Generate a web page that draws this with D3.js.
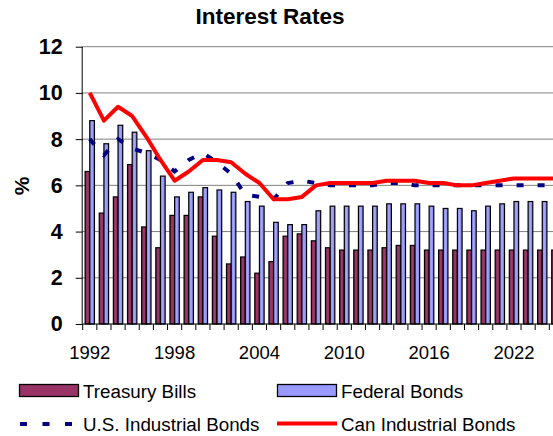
<!DOCTYPE html>
<html>
<head>
<meta charset="utf-8">
<script src="https://cdn.jsdelivr.net/npm/d3@7"></script>
<style>
  html, body { margin: 0; padding: 0; background: #fff; }
  svg { display: block; font-family: "Liberation Sans", Arial, sans-serif; }
</style>
</head>
<body>
<script>
// Annual interest rates (%), 1992–2025
const years = [1992,1993,1994,1995,1996,1997,1998,1999,2000,2001,2002,2003,2004,2005,2006,2007,2008,
               2009,2010,2011,2012,2013,2014,2015,2016,2017,2018,2019,2020,2021,2022,2023,2024,2025];
const treasuryBills = [6.6,4.8,5.5,6.9,4.2,3.3,4.7,4.7,5.5,3.8,2.6,2.9,2.2,2.7,3.8,3.9,3.6,
                       3.3,3.2,3.2,3.2,3.3,3.4,3.4,3.2,3.2,3.2,3.2,3.2,3.2,3.2,3.2,3.2,3.2];
const federalBonds = [8.8,7.8,8.6,8.3,7.5,6.4,5.5,5.7,5.9,5.8,5.7,5.3,5.1,4.4,4.3,4.3,4.9,
                      5.1,5.1,5.1,5.1,5.2,5.2,5.2,5.1,5.0,5.0,4.9,5.1,5.2,5.3,5.3,5.3,5.3];
const usIndustrialBonds = [8.0,7.3,8.0,7.6,7.4,7.1,6.6,7.1,7.4,7.0,6.5,5.6,5.5,5.4,6.1,6.2,6.1,
                           6.0,6.0,6.0,6.0,6.1,6.1,6.0,6.0,6.0,6.0,6.0,6.0,6.0,6.0,6.0,6.0,6.0];
const canIndustrialBonds = [10.0,8.8,9.4,9.0,8.1,7.1,6.2,6.6,7.1,7.1,7.0,6.5,6.1,5.4,5.4,5.5,6.0,
                            6.1,6.1,6.1,6.1,6.2,6.2,6.2,6.1,6.1,6.0,6.0,6.1,6.2,6.3,6.3,6.3,6.3];
const yTicks = [0,2,4,6,8,10,12];
const xLabelYears = [1992,1998,2004,2010,2016,2022];

const W = 553, H = 436;
const plotLeft = 82.7, plotTop = 46.7, plotBottom = 324;
const step = 14.14;
const plotRight = plotLeft + step * years.length;

const svg = d3.select("body").append("svg").attr("width", W).attr("height", H);

const defs = svg.append("defs");
const gTB = defs.append("linearGradient").attr("id", "gradTB").attr("x1", 0).attr("x2", 1).attr("y1", 0).attr("y2", 0);
gTB.append("stop").attr("offset", "0%").attr("stop-color", "#6e2248");
gTB.append("stop").attr("offset", "45%").attr("stop-color", "#a23a6c");
gTB.append("stop").attr("offset", "100%").attr("stop-color", "#7a2852");
const gFB = defs.append("linearGradient").attr("id", "gradFB").attr("x1", 0).attr("x2", 1).attr("y1", 0).attr("y2", 0);
gFB.append("stop").attr("offset", "0%").attr("stop-color", "#8080e6");
gFB.append("stop").attr("offset", "45%").attr("stop-color", "#a8a8ff");
gFB.append("stop").attr("offset", "100%").attr("stop-color", "#7c7ce0");

const x = d3.scaleBand().domain(years).range([plotLeft, plotRight]).paddingInner(0).paddingOuter(0);
const y = d3.scaleLinear().domain([0, 12]).range([plotBottom, plotTop]);

const groupPad = 0.17;
const barW = x.bandwidth() * (1 - 2 * groupPad) / 2;
const xc = d => x(d) + x.bandwidth() / 2;

// Title
svg.append("text").attr("x", 270).attr("y", 24).attr("text-anchor", "middle")
  .attr("font-size", 22.5).attr("font-weight", "bold").text("Interest Rates");

// Horizontal gridlines
svg.append("g").selectAll("line").data(yTicks.filter(t => t > 0)).join("line")
  .attr("x1", plotLeft).attr("x2", plotRight)
  .attr("y1", d => y(d)).attr("y2", d => y(d))
  .attr("stroke", "#808080").attr("stroke-width", 1);

// Bars
const bars = svg.append("g");
bars.selectAll("rect.tb").data(years).join("rect").attr("class", "tb")
  .attr("x", (d) => x(d) + x.bandwidth() * groupPad)
  .attr("width", barW)
  .attr("y", (d, i) => y(treasuryBills[i]))
  .attr("height", (d, i) => y(0) - y(treasuryBills[i]))
  .attr("fill", "url(#gradTB)").attr("stroke", "#000").attr("stroke-width", 1.2);
bars.selectAll("rect.fb").data(years).join("rect").attr("class", "fb")
  .attr("x", (d) => x(d) + x.bandwidth() * groupPad + barW)
  .attr("width", barW)
  .attr("y", (d, i) => y(federalBonds[i]))
  .attr("height", (d, i) => y(0) - y(federalBonds[i]))
  .attr("fill", "url(#gradFB)").attr("stroke", "#000").attr("stroke-width", 1.2);

// Lines
const line = d3.line().x((d, i) => xc(years[i])).y(d => y(d));
svg.append("path").datum(usIndustrialBonds).attr("d", line)
  .attr("fill", "none").attr("stroke", "#000080").attr("stroke-width", 4)
  .attr("stroke-dasharray", "7,14");
svg.append("path").datum(canIndustrialBonds).attr("d", line)
  .attr("fill", "none").attr("stroke", "#ff0000").attr("stroke-width", 4)
  .attr("stroke-linejoin", "round");

// Y axis
const yAxis = d3.axisLeft(y).tickValues(yTicks).tickSize(7).tickPadding(13).tickFormat(d3.format("d"));
const gy = svg.append("g").attr("transform", `translate(${plotLeft},0)`).call(yAxis);
gy.select(".domain").attr("stroke", "#000").attr("d", `M-0.5,${plotTop}V${plotBottom}`);
gy.selectAll(".tick line").attr("stroke", "#000");
gy.selectAll(".tick text").attr("font-size", 21.5).attr("font-weight", "bold")
  .attr("font-family", "'Liberation Sans', Arial, sans-serif").attr("fill", "#000");

// X axis: ticks at category boundaries, labels every six years
const gx = svg.append("g").attr("transform", `translate(0,${plotBottom})`);
gx.append("line").attr("x1", plotLeft).attr("x2", plotRight).attr("stroke", "#000");
gx.selectAll("line.tk").data(years.concat([null])).join("line").attr("class", "tk")
  .attr("x1", (d, i) => plotLeft + i * x.step()).attr("x2", (d, i) => plotLeft + i * x.step())
  .attr("y1", 0).attr("y2", 6).attr("stroke", "#000");
gx.selectAll("text").data(xLabelYears).join("text")
  .attr("x", d => xc(d)).attr("y", 35).attr("text-anchor", "middle")
  .attr("font-size", 18.5).text(d => d);

// Y axis title
svg.append("text").attr("transform", "translate(29,186) rotate(-90)")
  .attr("text-anchor", "middle").attr("font-size", 21).attr("font-weight", "bold").text("%");

// Legend
const lg = svg.append("g").attr("font-size", 18.8);
lg.append("rect").attr("x", 19.5).attr("y", 384.5).attr("width", 59).attr("height", 12)
  .attr("fill", "#993366").attr("stroke", "#000").attr("stroke-width", 1.3);
lg.append("text").attr("x", 83).attr("y", 398).text("Treasury Bills");
lg.append("rect").attr("x", 277.5).attr("y", 384.5).attr("width", 59).attr("height", 12)
  .attr("fill", "#9999ff").attr("stroke", "#000").attr("stroke-width", 1.3);
lg.append("text").attr("x", 341).attr("y", 398).text("Federal Bonds");
lg.append("line").attr("x1", 20).attr("x2", 72).attr("y1", 424).attr("y2", 424)
  .attr("stroke", "#000080").attr("stroke-width", 4).attr("stroke-dasharray", "7,15.5");
lg.append("text").attr("x", 83).attr("y", 431).text("U.S. Industrial Bonds");
lg.append("line").attr("x1", 277).attr("x2", 337).attr("y1", 423.5).attr("y2", 423.5)
  .attr("stroke", "#ff0000").attr("stroke-width", 4);
lg.append("text").attr("x", 341).attr("y", 431).text("Can Industrial Bonds");
</script>
</body>
</html>
